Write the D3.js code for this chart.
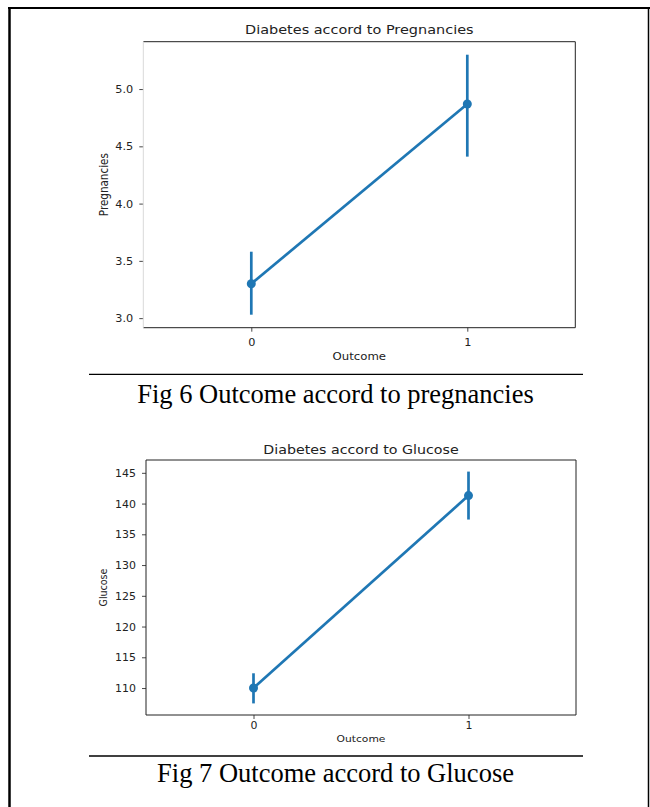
<!DOCTYPE html>
<html>
<head>
<meta charset="utf-8">
<script src="https://cdn.jsdelivr.net/npm/d3@7"></script>
<style>
  html, body { margin: 0; padding: 0; background: #fff; }
  svg { display: block; }
</style>
</head>
<body>
<svg id="page" width="650" height="807"></svg>
<script>
// ---------- data ----------
const categories = [0, 1];
const xTickLabels = ["0", "1"];

const pregMean = [3.30, 4.87];
const pregLow  = [3.03, 4.41];
const pregHigh = [3.58, 5.30];
const pregTicks = [3.0, 3.5, 4.0, 4.5, 5.0];

const glucMean = [110.0, 141.3];
const glucLow  = [107.5, 137.4];
const glucHigh = [112.4, 145.2];
const glucTicks = [110, 115, 120, 125, 130, 135, 140, 145];

const titles = ["Diabetes accord to Pregnancies", "Diabetes accord to Glucose"];
const yLabels = ["Pregnancies", "Glucose"];
const xLabel = "Outcome";
const captions = ["Fig 6 Outcome accord to pregnancies", "Fig 7 Outcome accord to Glucose"];

// ---------- layout ----------
const svg = d3.select("#page");
const BLUE = "#1f77b4";
const SX = 1.13; // horizontal stretch of chart text

// outer border
svg.append("line").attr("x1", 9.5).attr("x2", 9.5).attr("y1", 7).attr("y2", 807)
  .attr("stroke", "#000").attr("stroke-width", 2.5);
svg.append("line").attr("x1", 8).attr("x2", 650).attr("y1", 8).attr("y2", 8)
  .attr("stroke", "#000").attr("stroke-width", 2);
svg.append("line").attr("x1", 648.5).attr("x2", 648.5).attr("y1", 7).attr("y2", 807)
  .attr("stroke", "#000").attr("stroke-width", 1.5);

const panels = [
  { mean: pregMean, low: pregLow, high: pregHigh, ticks: pregTicks, fmt: d3.format(".1f"),
    title: titles[0], ylab: yLabels[0],
    L: 143.3, R: 575.3, T: 41.7, B: 327.7, leftSpine: "#d9d9d9",
    titleY: 33.5, tickFS: 10, labFS: 10.4, titleFS: 12.8,
    xTickY: 345.5, xLabY: 359.8, yLabX: 103.3,
    lineY: 374.3, capY: 403, capFS: 26.5 },
  { mean: glucMean, low: glucLow, high: glucHigh, ticks: glucTicks, fmt: d3.format("d"),
    title: titles[1], ylab: yLabels[1],
    L: 146, R: 576, T: 460, B: 715, leftSpine: "#222",
    titleY: 454, tickFS: 9.7, labFS: 9.5, titleFS: 12.6,
    xTickY: 728.5, xLabY: 742, yLabX: 103.3,
    lineY: 756, capY: 782, capFS: 26.5 }
];

panels.forEach((p, i) => {
  const g = svg.append("g");
  const lo = d3.min(p.low), hi = d3.max(p.high);
  const pad = (hi - lo) * 0.05;
  const y = d3.scaleLinear().domain([lo - pad, hi + pad]).range([p.B, p.T]);
  const x = d3.scaleLinear().domain([-0.5, 1.5]).range([p.L, p.R]);

  // y axis
  const ya = g.append("g").attr("transform", `translate(${p.L},0)`)
    .call(d3.axisLeft(y).tickValues(p.ticks).tickFormat(p.fmt).tickSize(4).tickPadding(5));
  ya.select(".domain").remove();
  ya.selectAll(".tick line").attr("stroke", "#333").attr("stroke-width", 0.9);
  ya.selectAll(".tick text")
    .attr("font-family", "DejaVu Sans").attr("font-size", p.tickFS).attr("fill", "#222")
    .attr("x", null).attr("dy", null)
    .attr("transform", `translate(-10,${p.tickFS * 0.36}) scale(${SX},1)`);

  // x axis
  const xa = g.append("g").attr("transform", `translate(0,${p.B})`)
    .call(d3.axisBottom(x).tickValues(categories).tickFormat((d, k) => xTickLabels[k]).tickSize(4).tickPadding(4));
  xa.select(".domain").remove();
  xa.selectAll(".tick line").attr("stroke", "#333").attr("stroke-width", 0.9);
  xa.selectAll(".tick text")
    .attr("font-family", "DejaVu Sans").attr("font-size", p.tickFS).attr("fill", "#222")
    .attr("y", null).attr("dy", null)
    .attr("transform", `translate(0,${p.xTickY - p.B}) scale(${SX},1)`);

  // spines
  g.append("line").attr("x1", p.L).attr("x2", p.R).attr("y1", p.T).attr("y2", p.T).attr("stroke", "#222").attr("stroke-width", 1);
  g.append("line").attr("x1", p.R).attr("x2", p.R).attr("y1", p.T).attr("y2", p.B).attr("stroke", "#222").attr("stroke-width", 1);
  g.append("line").attr("x1", p.L).attr("x2", p.R).attr("y1", p.B).attr("y2", p.B).attr("stroke", "#222").attr("stroke-width", 1);
  g.append("line").attr("x1", p.L).attr("x2", p.L).attr("y1", p.T).attr("y2", p.B).attr("stroke", p.leftSpine).attr("stroke-width", 1);

  // title
  g.append("text").text(p.title)
    .attr("font-family", "DejaVu Sans").attr("font-size", p.titleFS).attr("fill", "#222")
    .attr("text-anchor", "middle")
    .attr("transform", `translate(${(p.L + p.R) / 2},${p.titleY}) scale(${SX},1)`);

  // axis labels
  g.append("text").text(xLabel)
    .attr("font-family", "DejaVu Sans").attr("font-size", p.labFS).attr("fill", "#222")
    .attr("text-anchor", "middle")
    .attr("transform", `translate(${(p.L + p.R) / 2},${p.xLabY}) scale(${SX},1)`);
  g.append("text").text(p.ylab)
    .attr("font-family", "DejaVu Sans").attr("font-size", p.labFS).attr("fill", "#222")
    .attr("text-anchor", "middle")
    .attr("transform", `translate(${p.yLabX},${(p.T + p.B) / 2}) scale(${SX},1) rotate(-90) translate(0,${p.labFS * 0.36})`);

  // data: joined line, error bars, markers
  const pts = categories.map((c, k) => ({ c, m: p.mean[k], lo: p.low[k], hi: p.high[k] }));
  g.append("path").datum(pts)
    .attr("d", d3.line().x(d => x(d.c)).y(d => y(d.m)))
    .attr("fill", "none").attr("stroke", BLUE).attr("stroke-width", 2.7);
  g.selectAll(".err").data(pts).join("line")
    .attr("x1", d => x(d.c)).attr("x2", d => x(d.c))
    .attr("y1", d => y(d.lo)).attr("y2", d => y(d.hi))
    .attr("stroke", BLUE).attr("stroke-width", 2.7);
  g.selectAll(".pt").data(pts).join("circle")
    .attr("cx", d => x(d.c)).attr("cy", d => y(d.m)).attr("r", 4.5)
    .attr("fill", BLUE);

  // caption rule and caption
  svg.append("line").attr("x1", 89).attr("x2", 583).attr("y1", p.lineY).attr("y2", p.lineY)
    .attr("stroke", "#000").attr("stroke-width", 1.3);
  svg.append("text").text(captions[i])
    .attr("x", 335.5).attr("y", p.capY)
    .attr("font-family", "Liberation Serif").attr("font-size", p.capFS).attr("fill", "#000")
    .attr("text-anchor", "middle");
});
</script>
</body>
</html>
